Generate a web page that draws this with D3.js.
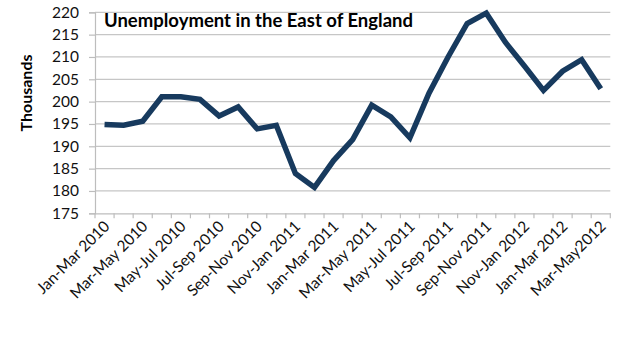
<!DOCTYPE html>
<html>
<head>
<meta charset="utf-8">
<script src="https://cdn.jsdelivr.net/npm/d3@7"></script>
<style>
  html, body { margin: 0; padding: 0; background: #fff; }
  svg { display: block; }
</style>
</head>
<body>
<svg id="chart" width="624" height="351"></svg>
<script>
const title = "Unemployment in the East of England";
const yTitle = "Thousands";
const categories = [
  "Jan-Mar 2010","Feb-Apr 2010","Mar-May 2010","Apr-Jun 2010","May-Jul 2010","Jun-Aug 2010",
  "Jul-Sep 2010","Aug-Oct 2010","Sep-Nov 2010","Oct-Dec 2010","Nov-Jan 2011","Dec-Feb 2011",
  "Jan-Mar 2011","Feb-Apr 2011","Mar-May 2011","Apr-Jun 2011","May-Jul 2011","Jun-Aug 2011",
  "Jul-Sep 2011","Aug-Oct 2011","Sep-Nov 2011","Oct-Dec 2011","Nov-Jan 2012","Dec-Feb 2012",
  "Jan-Mar 2012","Feb-Apr 2012","Mar-May2012"
];
const values = [
  194.9, 194.7, 195.6, 201.1, 201.1, 200.5,
  196.8, 198.8, 193.9, 194.7, 183.9, 180.8,
  186.8, 191.5, 199.2, 196.6, 191.9, 201.9,
  210.0, 217.5, 219.8, 213.3, 208.0, 202.5,
  206.8, 209.4, 202.9
];
const yTicks = [175, 180, 185, 190, 195, 200, 205, 210, 215, 220];

(function () {
const svg = d3.select("#chart");
const font = "Lato, 'Open Sans', sans-serif";
const mLeft = 95, mRight = 610.3, mTop = 12.3, mBottom = 213.3;

const x = d3.scaleBand().domain(categories).range([mLeft, mRight]);
const y = d3.scaleLinear().domain([175, 220]).range([mBottom, mTop]);

// gridlines
svg.append("g").selectAll("line").data(yTicks.filter(d => d !== 175)).join("line")
  .attr("x1", mLeft).attr("x2", mRight)
  .attr("y1", d => y(d)).attr("y2", d => y(d))
  .attr("stroke", "#c6c6c6").attr("stroke-width", 1.2);

// y axis
const yAxis = svg.append("g").attr("transform", `translate(${mLeft},0)`)
  .call(d3.axisLeft(y).tickValues(yTicks).tickSize(6).tickPadding(10).tickFormat(d3.format("d")));
yAxis.select(".domain").attr("stroke", "#bdbdbd").attr("stroke-width", 1.2);
yAxis.selectAll(".tick line").attr("stroke", "#bdbdbd").attr("stroke-width", 1.2);
yAxis.selectAll("text").attr("font-family", font).attr("font-size", 15.5).attr("fill", "#111");

// x axis
const xAxis = svg.append("g").attr("transform", `translate(0,${mBottom})`)
  .call(d3.axisBottom(x).tickSize(5).tickSizeOuter(0).tickFormat(""));
xAxis.selectAll(".tick").remove();
xAxis.select(".domain").attr("stroke", "#bdbdbd").attr("stroke-width", 1.2);
const edges = categories.map(c => x(c)).concat([mRight]);
xAxis.selectAll("line.edge").data(edges).join("line").attr("class", "edge")
  .attr("x1", d => d).attr("x2", d => d).attr("y1", 0).attr("y2", 5)
  .attr("stroke", "#bdbdbd").attr("stroke-width", 1.2);

// x labels (every other category)
svg.append("g").selectAll("text")
  .data(categories.filter((d, i) => i % 2 === 0))
  .join("text")
  .attr("transform", d => `translate(${x(d) + x.bandwidth() / 2 + 6},${mBottom + 14}) rotate(-45)`)
  .attr("text-anchor", "end")
  .attr("font-family", font).attr("font-size", 15.5).attr("fill", "#111")
  .text(d => d);

// line
const line = d3.line()
  .x((d, i) => x(categories[i]) + x.bandwidth() / 2)
  .y(d => y(d));
svg.append("path").datum(values)
  .attr("d", line)
  .attr("fill", "none")
  .attr("stroke", "#173a5e")
  .attr("stroke-width", 5.5)
  .attr("stroke-linejoin", "miter")
  .attr("stroke-linecap", "butt");

// title
svg.append("text")
  .attr("x", 104).attr("y", 26.5)
  .attr("font-family", font).attr("font-weight", "bold").attr("font-size", 18.5).attr("fill", "#000")
  .text(title);

// y title
svg.append("text")
  .attr("transform", "translate(32,93) rotate(-90)")
  .attr("text-anchor", "middle")
  .attr("font-family", font).attr("font-weight", "bold").attr("font-size", 16).attr("fill", "#000")
  .text(yTitle);
})();
</script>
</body>
</html>
